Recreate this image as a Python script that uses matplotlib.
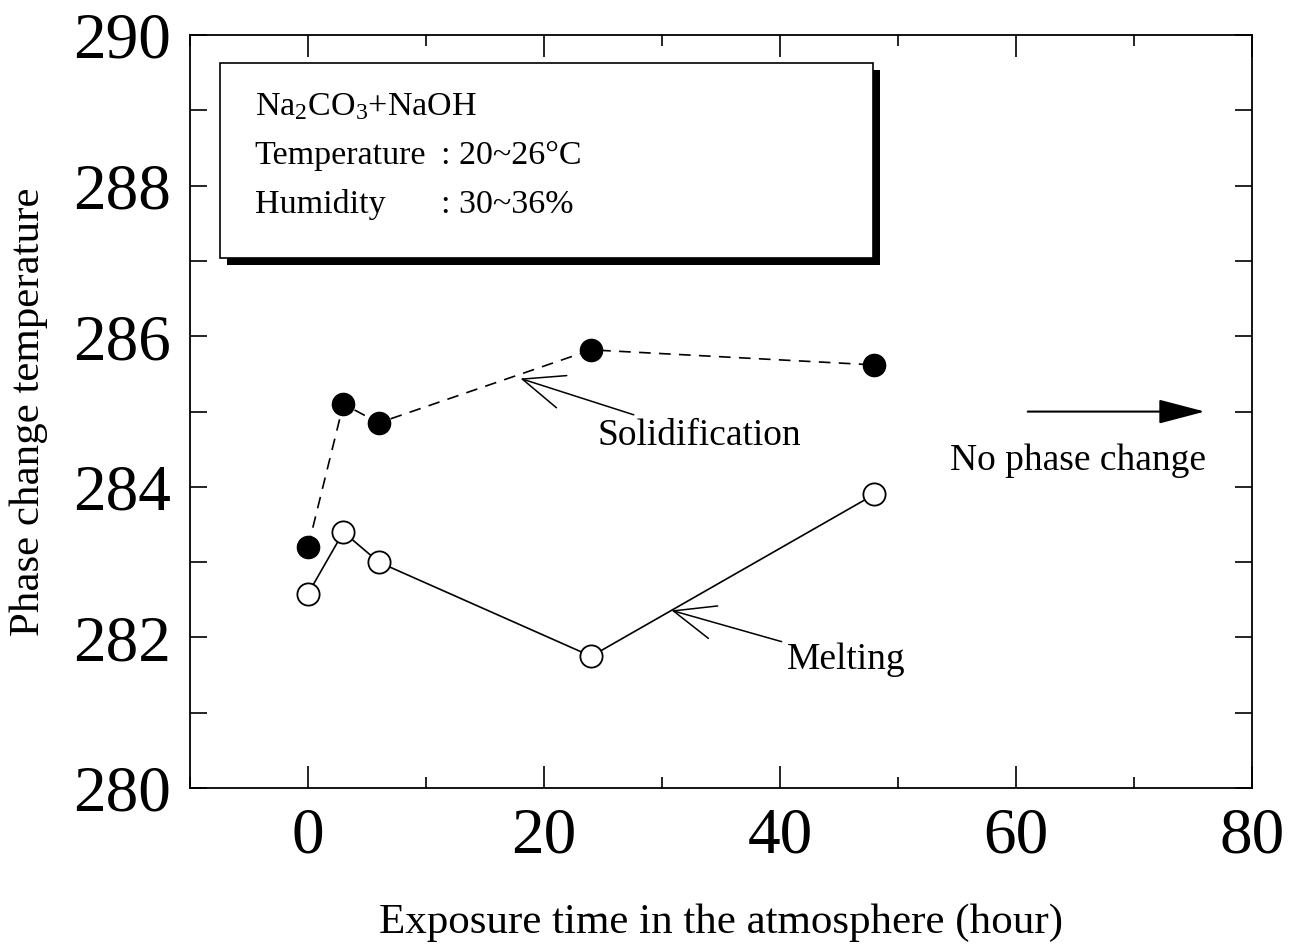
import matplotlib
matplotlib.use("Agg")
import matplotlib.pyplot as plt
from matplotlib.patches import Rectangle
from matplotlib.ticker import MultipleLocator

plt.rcParams["font.family"] = ["Liberation Serif", "DejaVu Serif"]
plt.rcParams["mathtext.fontset"] = "custom"
plt.rcParams["mathtext.rm"] = "Liberation Serif"
plt.rcParams["mathtext.it"] = "Liberation Serif:italic"

# exposure time (hour) and phase change temperatures
hours = [0, 3, 6, 24, 48]
solidification = [283.2, 285.1, 284.85, 285.82, 285.62]
melting = [282.58, 283.4, 283.0, 281.75, 283.9]

fig = plt.figure(figsize=(12.96, 9.5), dpi=100)
ax = fig.add_axes([0.1466, 0.1705, 0.8194, 0.7925])

ax.plot(hours, solidification, "--", color="black", lw=1.2, dashes=(7, 5),
        marker="o", ms=16, mfc="black", mec="black", zorder=3)
ax.plot(hours, melting, "-", color="black", lw=1.2,
        marker="o", ms=16, mfc="white", mec="black", mew=1.3, zorder=3)

ax.set_xlim(-10, 80)
ax.set_ylim(280, 290)
ax.xaxis.set_major_locator(MultipleLocator(20))
ax.xaxis.set_minor_locator(MultipleLocator(10))
ax.yaxis.set_major_locator(MultipleLocator(2))
ax.yaxis.set_minor_locator(MultipleLocator(1))
ax.tick_params(axis="both", which="both", direction="in", top=True, right=True,
               width=1.2, labelsize=47, pad=14)
ax.tick_params(axis="x", which="major", length=16)
ax.tick_params(axis="x", which="minor", length=8)
ax.tick_params(axis="y", which="both", length=12)
for s in ax.spines.values():
    s.set_linewidth(1.3)

ax.set_xlabel("Exposure time in the atmosphere (hour)", fontsize=31, labelpad=26)
ax.set_ylabel("Phase change temperature", fontsize=31, labelpad=18)

# conditions box with drop shadow
ax.add_patch(Rectangle((0.035, 0.695), 0.615, 0.259, transform=ax.transAxes,
                       facecolor="black", edgecolor="none", zorder=4))
ax.add_patch(Rectangle((0.028, 0.704), 0.615, 0.259, transform=ax.transAxes,
                       facecolor="white", edgecolor="black", lw=1.2, zorder=5))
tx = 0.061
cx = 0.236
ax.text(tx, 0.905, r"Na$_2$CO$_3$+NaOH", transform=ax.transAxes,
        fontsize=24.5, va="center", zorder=6)
ax.text(tx, 0.84, "Temperature", transform=ax.transAxes,
        fontsize=24.5, va="center", zorder=6)
ax.text(cx, 0.84, ": 20~26°C", transform=ax.transAxes,
        fontsize=24.5, va="center", zorder=6)
ax.text(tx, 0.775, "Humidity", transform=ax.transAxes,
        fontsize=24.5, va="center", zorder=6)
ax.text(cx, 0.775, ": 30~36%", transform=ax.transAxes,
        fontsize=24.5, va="center", zorder=6)

# curve labels with open-headed arrows
open_head = dict(arrowstyle="->,head_length=1.1,head_width=0.45",
                 color="black", lw=1.1, shrinkA=2, shrinkB=0)
ax.annotate("Solidification", xy=(18.0, 285.44), xytext=(24.5, 284.68),
            fontsize=27, va="center", ha="left", arrowprops=open_head)
ax.annotate("Melting", xy=(30.8, 282.36), xytext=(40.6, 281.7),
            fontsize=27, va="center", ha="left", arrowprops=open_head)

ax.annotate("", xy=(76.0, 285.0), xytext=(61.0, 285.0),
            arrowprops=dict(arrowstyle="-|>,head_length=1.45,head_width=0.38",
                            mutation_scale=20, color="black", lw=1.5,
                            shrinkA=0, shrinkB=0))
ax.text(65.3, 284.35, "No phase change", fontsize=27, ha="center", va="center")

fig.savefig("out.png", dpi=100)
